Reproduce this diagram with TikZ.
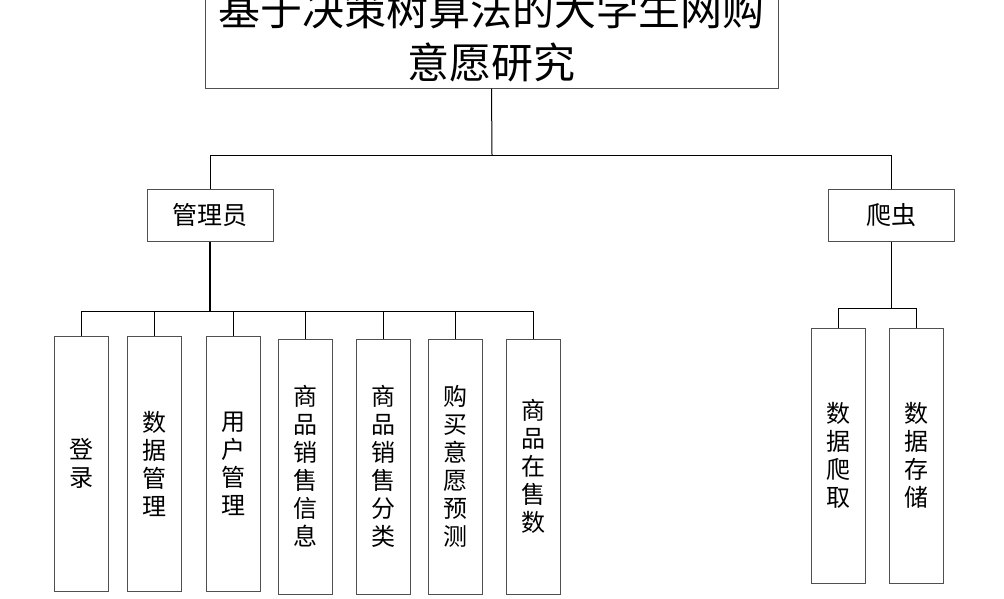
\documentclass[tikz,border=0pt]{standalone}
\usepackage{fontspec}
\newfontfamily\cjk{Noto Sans CJK SC}
\usepackage{tikz}
\definecolor{boxGray}{RGB}{80, 80, 80}

\begin{document}
\begin{tikzpicture} [
    x=1pt, y=-1pt,
    titlebox/.style = { rectangle, draw=boxGray, line width=1pt, align=center,
                        minimum width=573pt, minimum height=105pt, inner sep=0pt,
                        font=\cjk\fontsize{42}{53}\selectfont},
    rolebox/.style  = { rectangle, draw=boxGray, line width=1pt,
                        minimum width=126pt, minimum height=52pt, inner sep=0pt,
                        font=\cjk\fontsize{25}{30}\selectfont},
    funcbox/.style  = { rectangle, draw=boxGray, line width=1pt, align=center,
                        minimum width=54pt, minimum height=255pt, inner sep=0pt,
                        font=\cjk\fontsize{24}{28}\selectfont},
    line/.style     = { draw, line width=1pt},
  ]
  \clip (0,0) rectangle (1004,598);
  \fill[white] (0,0) rectangle (1004,598);

%Wurzel
  \node [titlebox] (title) at (491.5,35.5) {基于决策树算法的大学生网购\\意愿研究};

%zweite Ebene
  \node [rolebox] (admin)   at (210,215) {管理员};
  \node [rolebox] (crawler) at (891,215) {爬虫};

%Funktionen Verwaltung
  \node [funcbox] (login)    at (81,463.5)    {登\\录};
  \node [funcbox] (datamgr)  at (154.5,463.5) {数\\据\\管\\理};
  \node [funcbox] (usermgr)  at (233,463.5)   {用\\户\\管\\理};
  \node [funcbox] (saleinfo) at (305.5,466.5) {商\\品\\销\\售\\信\\息};
  \node [funcbox] (salecat)  at (383.5,466.5) {商\\品\\销\\售\\分\\类};
  \node [funcbox] (predict)  at (455.5,466.5) {购\\买\\意\\愿\\预\\测};
  \node [funcbox] (onsale)   at (533.5,466.5) {商\\品\\在\\售\\数};

%Funktionen Crawler
  \node [funcbox] (crawl) at (838,455.5) {数\\据\\爬\\取};
  \node [funcbox] (store) at (916,455.5) {数\\据\\存\\储};

%Sammelschienen
  \coordinate (bus1) at (492,155);
  \coordinate (bus2) at (210,311);
  \coordinate (bus3) at (891,308);

%Verbindungen
  \begin{scope} [every path/.style={line}]
   \path (title.south) -- (bus1);
   \path (admin.north) -- (admin.north |- bus1) -- (crawler.north |- bus1) -- (crawler.north);
   \path[line width=2pt] (admin.south) -- (bus2);
   \path (login.north |- bus2) -- (onsale.north |- bus2);
   \foreach \n in {login, datamgr, usermgr, saleinfo, salecat, predict, onsale}
     \path (\n.north) -- (\n.north |- bus2);
   \path (crawler.south) -- (bus3);
   \path (crawl.north |- bus3) -- (store.north |- bus3);
   \path (crawl.north) -- (crawl.north |- bus3);
   \path (store.north) -- (store.north |- bus3);
  \end{scope}
\end{tikzpicture}
\end{document}
